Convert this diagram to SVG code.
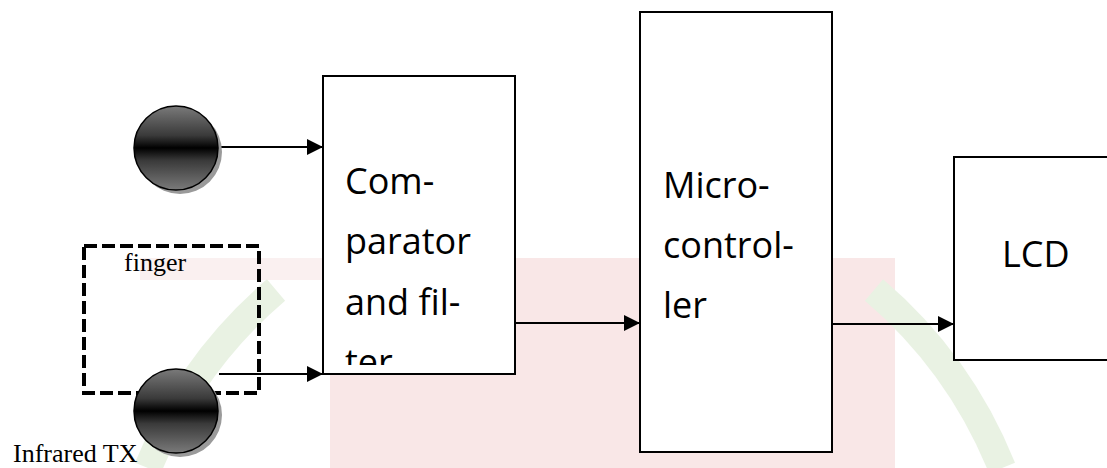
<svg xmlns="http://www.w3.org/2000/svg" width="1107" height="468" viewBox="0 0 1107 468">
  <style>
    .box { fill: #ffffff; stroke: #000000; stroke-width: 2; }
    .lbl { font-family: "Open Sans", "Liberation Sans", sans-serif; font-size: 36px; fill: #000000; }
    .serif { font-family: "Liberation Serif", "Times New Roman", serif; font-size: 26px; fill: #000000; }
    .conn { stroke: #000000; stroke-width: 2; fill: none; marker-end: url(#arrow); }
  </style>
  <defs>
    <marker id="arrow" viewBox="0 0 16 16" refX="16" refY="8" markerWidth="16" markerHeight="16" markerUnits="userSpaceOnUse" orient="auto">
      <path d="M0,0 L16,8 L0,16 Z" fill="#000000"/>
    </marker>
    <linearGradient id="ball" x1="0" y1="0" x2="0" y2="1">
      <stop offset="0" stop-color="#7a7a7a"/>
      <stop offset="0.35" stop-color="#3a3a3a"/>
      <stop offset="0.5" stop-color="#000000"/>
      <stop offset="0.65" stop-color="#3a3a3a"/>
      <stop offset="1" stop-color="#7a7a7a"/>
    </linearGradient>
    <clipPath id="compClip">
      <rect x="323" y="76" width="192" height="289"/>
    </clipPath>
  </defs>

  <rect width="1107" height="468" fill="#ffffff"/>

  <!-- faint watermark background -->
  <g id="watermark" opacity="0.45">
    <rect x="140" y="258" width="560" height="22" fill="#f6dede"/>
    <rect x="330" y="258" width="565" height="210" fill="#f3cccc"/>
    <path d="M148,468 A460,460 0 0,1 276,290" fill="none" stroke="#cfe3c2" stroke-width="28"/>
    <path d="M874,290 A460,460 0 0,1 1002,468" fill="none" stroke="#cfe3c2" stroke-width="28"/>
    <circle cx="430" cy="330" r="38" fill="none" stroke="#e8b0b0" stroke-width="8"/>
  </g>

  <g id="connectors">
    <line class="conn" x1="218" y1="147" x2="323" y2="147"/>
    <line class="conn" x1="219" y1="374" x2="323" y2="374"/>
    <line class="conn" x1="515" y1="323" x2="640" y2="323"/>
    <line class="conn" x1="832" y1="324" x2="954" y2="324"/>
  </g>

  <g id="finger">
    <rect x="84" y="246" width="175" height="147" fill="none" stroke="#000000" stroke-width="4" stroke-dasharray="13 5"/>
    <text class="serif" x="124" y="271">finger</text>
  </g>

  <g id="sensor-rx">
    <circle cx="180" cy="152" r="42" fill="#9a9a9a"/>
    <circle cx="176" cy="148" r="42" fill="url(#ball)" stroke="#000000" stroke-width="1.5"/>
  </g>

  <g id="sensor-tx">
    <circle cx="180" cy="415" r="42" fill="#9a9a9a"/>
    <circle cx="176" cy="411" r="42" fill="url(#ball)" stroke="#000000" stroke-width="1.5"/>
    <text class="serif" x="13" y="462">Infrared TX</text>
  </g>

  <g id="comparator">
    <rect class="box" x="323" y="76" width="192" height="298"/>
    <g clip-path="url(#compClip)">
      <text class="lbl" x="345" y="194">Com-</text>
      <text class="lbl" x="345" y="254">parator</text>
      <text class="lbl" x="345" y="315">and fil-</text>
      <text class="lbl" x="345" y="375">ter</text>
    </g>
  </g>

  <g id="microcontroller">
    <rect class="box" x="640" y="12" width="192" height="440"/>
    <text class="lbl" x="663" y="198">Micro-</text>
    <text class="lbl" x="663" y="258">control-</text>
    <text class="lbl" x="663" y="318">ler</text>
  </g>

  <g id="lcd">
    <rect class="box" x="954" y="157" width="170" height="203"/>
    <text class="lbl" x="1002" y="267">LCD</text>
  </g>
</svg>
